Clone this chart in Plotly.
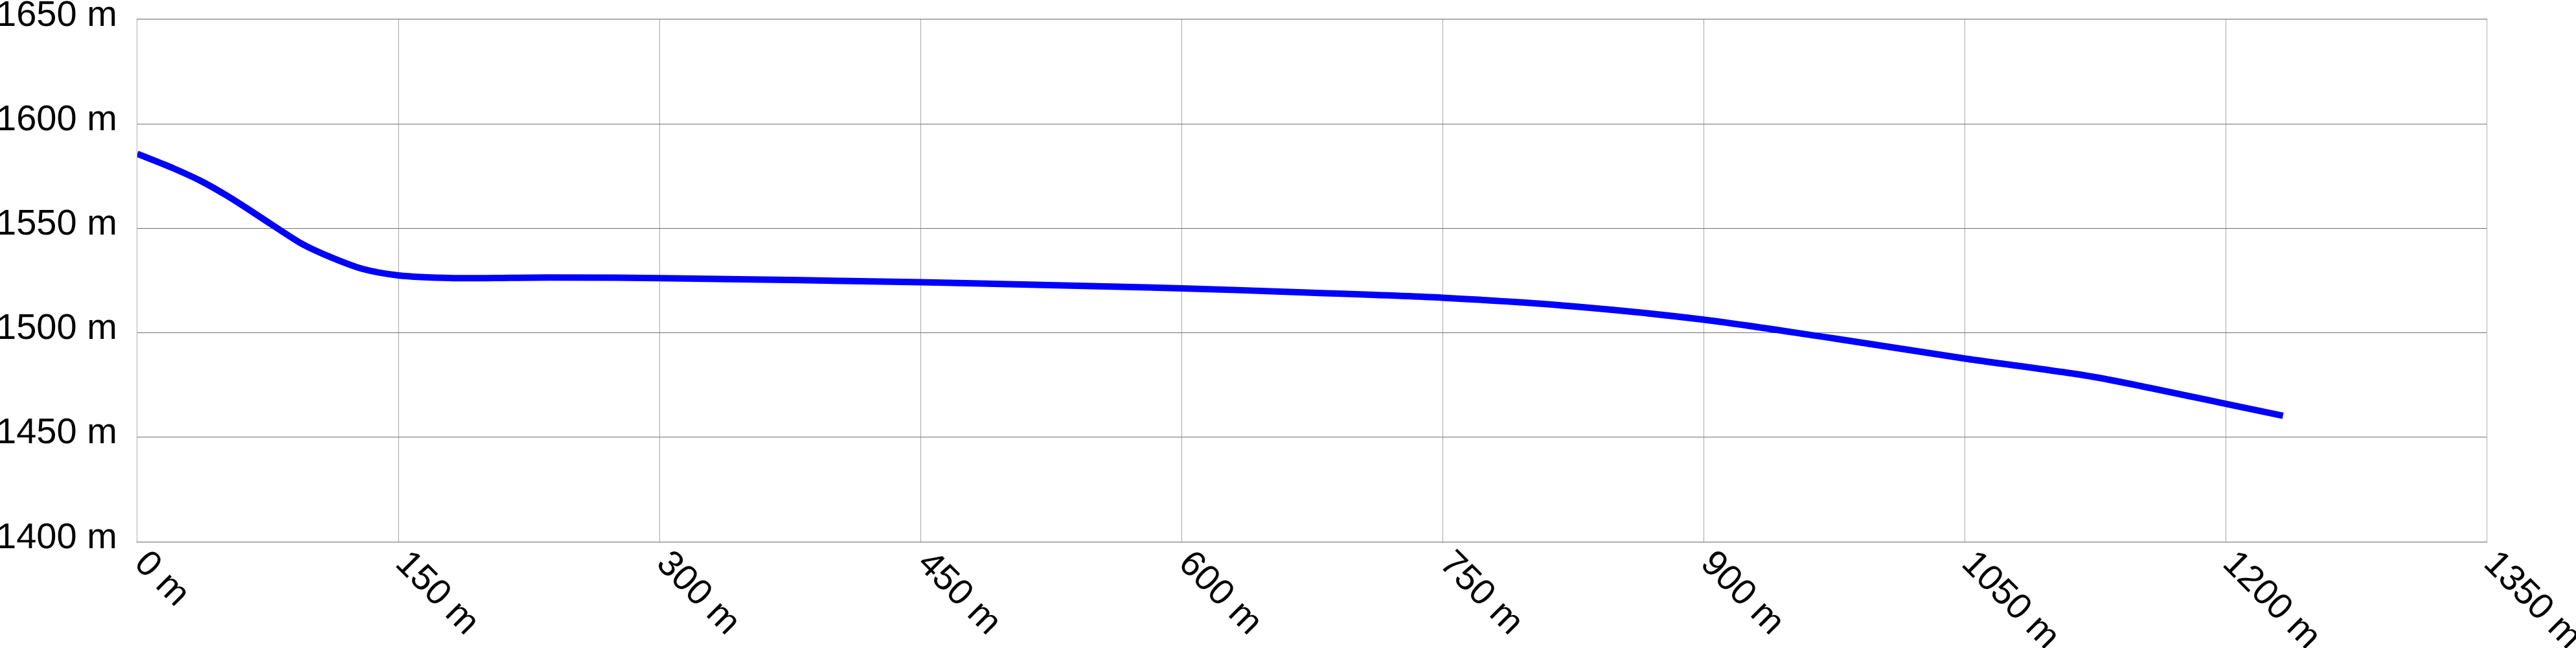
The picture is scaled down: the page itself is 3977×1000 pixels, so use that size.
import plotly.graph_objects as go

# Distance along route (m) and elevation (m)
distance_m = [0, 20.3, 36.5, 51.4, 65, 81.1, 94.8, 110.9, 129.5, 150, 181.6, 236, 300,
              450, 600, 675, 750, 825, 900, 975, 1050, 1125, 1200, 1233]
elevation_m = [1585.7, 1578.9, 1572.7, 1565.7, 1558.5, 1549.7, 1542.5, 1536.3, 1530.6,
               1527.5, 1526.2, 1526.5, 1526.2, 1524.2, 1521.3, 1519.2, 1516.8, 1512.7,
               1506.3, 1497.3, 1487.7, 1478.8, 1466.0, 1460.3]

x_ticks = [0, 150, 300, 450, 600, 750, 900, 1050, 1200, 1350]
y_ticks = [1400, 1450, 1500, 1550, 1600, 1650]

FONT = "Liberation Sans, Arial, sans-serif"
FS = 56

fig = go.Figure()
fig.add_trace(go.Scatter(
    x=distance_m, y=elevation_m, mode="lines",
    line=dict(color="#0000ff", width=10, shape="spline", smoothing=0.8),
    hoverinfo="skip", showlegend=False,
))

fig.update_layout(
    width=3977, height=1000,
    margin=dict(l=212, r=138, t=30, b=164, autoexpand=False),
    paper_bgcolor="white", plot_bgcolor="white",
    font=dict(family=FONT, size=FS, color="black"),
    showlegend=False,
    xaxis=dict(
        range=[0, 1350], tickmode="array", tickvals=x_ticks,
        ticktext=[f"{v} m" for v in x_ticks], automargin=False,
        tickangle=45, showgrid=True, gridcolor="#a8a8a8", gridwidth=1,
        zeroline=False, showline=True, linecolor="#666666", linewidth=1, mirror=True,
        ticks="", ticklabeloverflow="allow", ticklabelstandoff=-24, ticklabelshift=13,
        tickfont=dict(family=FONT, size=FS, color="black"),
    ),
    yaxis=dict(
        range=[1400, 1650], tickmode="array", tickvals=y_ticks,
        ticktext=[f"{v} m" for v in y_ticks], automargin=False,
        showgrid=True, gridcolor="#707070", gridwidth=1,
        zeroline=False, showline=True, linecolor="#b0b0b0", linewidth=1, mirror=True,
        ticks="", ticklabeloverflow="allow", ticklabelstandoff=19, ticklabelshift=-10,
        tickfont=dict(family=FONT, size=FS, color="black"),
    ),
)

fig.write_html("out.html", config={"displayModeBar": False},
               post_script="document.body.style.margin='0';")
